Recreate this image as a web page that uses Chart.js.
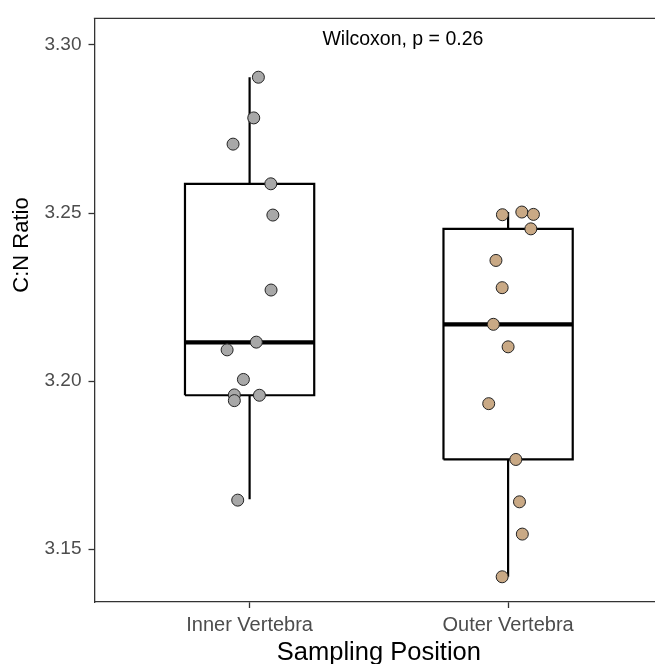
<!DOCTYPE html>
<html>
<head>
<meta charset="utf-8">
<script src="https://cdn.jsdelivr.net/npm/chart.js@4.4.1/dist/chart.umd.min.js"></script>
<style>
  html, body { margin: 0; padding: 0; background: #ffffff; overflow: hidden; }
  #wrap { width: 655px; height: 664px; }
</style>
</head>
<body>
<div id="wrap"><canvas id="c" width="655" height="664"></canvas></div>
<script>
// ---------- data ----------
const categories = ["Inner Vertebra", "Outer Vertebra"];
const innerValues = [3.2904, 3.2783, 3.2705, 3.2587, 3.2494, 3.2271, 3.2116, 3.2093, 3.2005, 3.1959, 3.1942, 3.1958, 3.1646];
const innerJitter = [0.034, 0.016, -0.064, 0.082, 0.090, 0.083, 0.026, -0.087, -0.024, -0.059, -0.059, 0.038, -0.046];
const outerValues = [3.2495, 3.2503, 3.2496, 3.2453, 3.2359, 3.2278, 3.2169, 3.2102, 3.1933, 3.1767, 3.1641, 3.1545, 3.1418];
const outerJitter = [-0.022, 0.053, 0.098, 0.088, -0.047, -0.023, -0.057, 0.000, -0.075, 0.030, 0.044, 0.055, -0.023];
// box statistics per category
const boxMin    = [3.1649, 3.1418];
const boxQ1     = [3.1958, 3.1767];
const boxMedian = [3.2115, 3.2169];
const boxQ3     = [3.2587, 3.2453];
const boxMax    = [3.2904, 3.2503];
const yTickValues = [3.15, 3.20, 3.25, 3.30];
const annotationText = "Wilcoxon, p = 0.26";
const annotationX = 1.593;
const annotationY = 3.30;
const xAxisTitle = "Sampling Position";
const yAxisTitle = "C:N Ratio";

// ---------- styling ----------
const FONT = "'Liberation Sans', Arial, Helvetica, sans-serif";
const AXIS_COL = "#333333";
const pointColors = ["#A8A8A8", "#C9A985"];
const BOX_HALF = 0.25;

const datasets = [];
// points (drawn on top)
[innerValues, outerValues].forEach((vals, g) => {
  const jit = g === 0 ? innerJitter : outerJitter;
  datasets.push({
    type: 'scatter',
    label: categories[g],
    data: vals.map((v, i) => ({ x: g + 1 + jit[i], y: v })),
    pointRadius: 6,
    pointHoverRadius: 6,
    pointBackgroundColor: pointColors[g],
    pointBorderColor: "#222222",
    pointBorderWidth: 1,
    clip: false,
    order: 0
  });
});
// boxes, medians, whiskers
categories.forEach((cat, g) => {
  const c = g + 1;
  const lineBase = { type: 'line', showLine: true, pointRadius: 0, pointHoverRadius: 0,
    borderColor: "#000000", fill: false, tension: 0, borderJoinStyle: 'miter',
    borderCapStyle: 'butt', order: 2 };
  datasets.push(Object.assign({}, lineBase, {
    label: cat + " box",
    borderWidth: 2.2,
    data: [
      { x: c - BOX_HALF, y: boxQ1[g] }, { x: c + BOX_HALF, y: boxQ1[g] },
      { x: c + BOX_HALF, y: boxQ3[g] }, { x: c - BOX_HALF, y: boxQ3[g] },
      { x: c - BOX_HALF, y: boxQ1[g] }
    ]
  }));
  datasets.push(Object.assign({}, lineBase, {
    label: cat + " upper whisker", borderWidth: 2.2,
    data: [{ x: c, y: boxQ3[g] }, { x: c, y: boxMax[g] }]
  }));
  datasets.push(Object.assign({}, lineBase, {
    label: cat + " lower whisker", borderWidth: 2.2,
    data: [{ x: c, y: boxQ1[g] }, { x: c, y: boxMin[g] }]
  }));
  datasets.push(Object.assign({}, lineBase, {
    label: cat + " median", borderWidth: 4.2, order: 1,
    data: [{ x: c - BOX_HALF, y: boxMedian[g] }, { x: c + BOX_HALF, y: boxMedian[g] }]
  }));
});

const extras = {
  id: 'extras',
  beforeDatasetsDraw(chart) {
    const { ctx, chartArea } = chart;
    ctx.save();
    ctx.strokeStyle = AXIS_COL;
    ctx.lineWidth = 1.3;
    ctx.beginPath();
    ctx.moveTo(chartArea.left - 0.65, chartArea.top);
    ctx.lineTo(chartArea.right, chartArea.top);
    ctx.stroke();
    ctx.restore();
  },
  afterDraw(chart) {
    const { ctx, chartArea, scales } = chart;
    ctx.save();
    // annotation
    ctx.fillStyle = "#000000";
    ctx.font = "19.5px " + FONT;
    ctx.textAlign = 'center';
    ctx.textBaseline = 'alphabetic';
    ctx.fillText(annotationText, scales.x.getPixelForValue(annotationX), scales.y.getPixelForValue(annotationY));
    // x title (centred on the full panel, which runs past the right edge)
    ctx.font = "25.5px " + FONT;
    ctx.fillText(xAxisTitle, (chartArea.left + scales.x.getPixelForValue(2.6)) / 2, 660);
    // y title
    ctx.translate(22, 245);
    ctx.rotate(-Math.PI / 2);
    ctx.textBaseline = 'middle';
    ctx.font = "22px " + FONT;
    ctx.fillText(yAxisTitle, 0, 0);
    ctx.restore();
  }
};

new Chart(document.getElementById('c'), {
  data: { datasets },
  options: {
    responsive: false,
    animation: false,
    events: [],
    layout: { autoPadding: false, padding: { left: 0, top: 15, right: 0, bottom: 0 } },
    plugins: { legend: { display: false }, tooltip: { enabled: false } },
    scales: {
      x: {
        type: 'linear',
        min: 0.4,
        max: 0.4 + (655 - 94.5) / 258.5,
        afterBuildTicks(scale) { scale.ticks = categories.map((_, i) => ({ value: i + 1 })); },
        afterFit(scale) { scale.height = 62; },
        ticks: {
          autoSkip: false,
          maxRotation: 0,
          padding: 5,
          color: "#4D4D4D",
          font: { family: FONT, size: 20 },
          callback: (v) => categories[Math.round(v) - 1]
        },
        grid: { display: true, drawOnChartArea: false, drawTicks: true, tickLength: 6, tickColor: AXIS_COL, tickWidth: 1.3 },
        border: { display: true, color: AXIS_COL, width: 1.3 }
      },
      y: {
        type: 'linear',
        min: 3.1343,
        max: 3.3079,
        afterBuildTicks(scale) { scale.ticks = yTickValues.map(v => ({ value: v })); },
        afterFit(scale) { scale.width = 94.5; },
        ticks: {
          padding: 7,
          color: "#4D4D4D",
          font: { family: FONT, size: 19 },
          callback: (v) => Number(v).toFixed(2)
        },
        grid: { display: true, drawOnChartArea: false, drawTicks: true, tickLength: 6, tickColor: AXIS_COL, tickWidth: 1.3 },
        border: { display: true, color: AXIS_COL, width: 1.3 }
      }
    }
  },
  plugins: [extras]
});
</script>
</body>
</html>
